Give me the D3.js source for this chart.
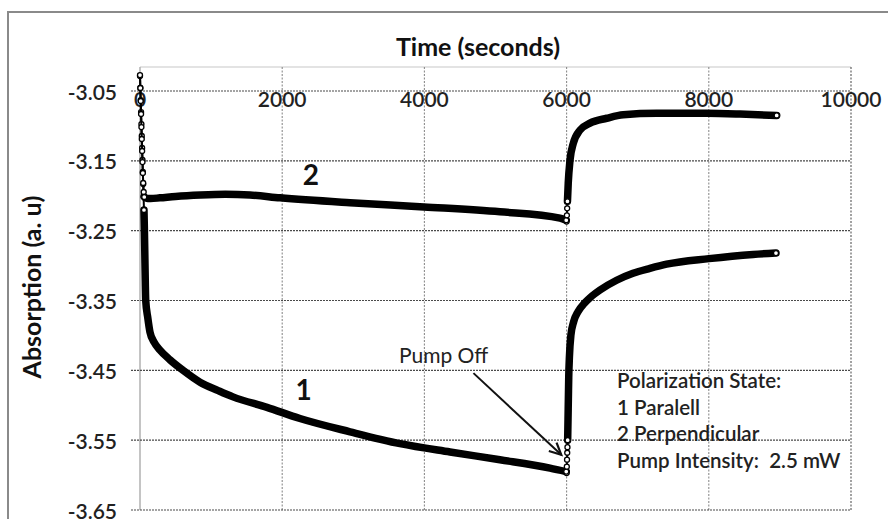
<!DOCTYPE html>
<html><head><meta charset="utf-8">
<script src="https://cdn.jsdelivr.net/npm/d3@7"></script>
<style>html,body{margin:0;padding:0;background:#fff;overflow:hidden}svg{display:block}text{font-family:Lato,"Open Sans",sans-serif}</style>
</head><body><svg id="c" width="888" height="519"></svg>
<script>
// ---- data ----
const xTicks = [0, 2000, 4000, 6000, 8000, 10000];
const yTicks = [-3.05, -3.15, -3.25, -3.35, -3.45, -3.55, -3.65];
const xTitle = "Time (seconds)";
const yTitle = "Absorption (a. u)";

// Series 1: parallel polarization
const time1 = [0,5,10,15,20,25,30,35,40,45,50,56,62,68,74,80,
  110,140,200,281,422,605,844,1100,1308,1786,2250,2954,3657,4360,5063,5767,5995,
  6000,6003,6006,6009,6012,6015,6020,6025,6030,6040,6060,6100,6160,6250,6330,6470,6704,6934,7172,7406,8003,8622,8945];
const abs1 = [-3.0285,-3.0457,-3.0629,-3.0801,-3.0973,-3.1144,-3.1316,-3.1488,-3.1660,-3.1832,-3.2004,-3.2204,-3.2491,-3.2849,-3.3207,-3.3493,
  -3.375,-3.395,-3.410,-3.421,-3.435,-3.450,-3.467,-3.479,-3.488,-3.503,-3.519,-3.538,-3.555,-3.567,-3.578,-3.590,-3.595,
  -3.597,-3.588,-3.578,-3.568,-3.560,-3.550,-3.520,-3.490,-3.460,-3.430,-3.400,-3.380,-3.366,-3.354,-3.346,-3.335,-3.321,-3.311,-3.304,-3.298,-3.290,-3.284,-3.282];

// Series 2: perpendicular polarization
const time2 = [0,5,10,15,20,25,30,35,40,45,52,60,
  80,110,150,280,500,850,1200,1547,1969,2954,3994,5063,5907,5995,
  6000,6004,6008,6012,6023,6048,6094,6188,6329,6564,6797,7267,7970,8439,8955];
const abs2 = [-3.0271,-3.0457,-3.0643,-3.0829,-3.1016,-3.1187,-3.1359,-3.1517,-3.1674,-3.1817,-3.1946,-3.2018,
  -3.203,-3.204,-3.204,-3.203,-3.201,-3.199,-3.198,-3.199,-3.203,-3.210,-3.216,-3.223,-3.232,-3.235,
  -3.237,-3.228,-3.218,-3.208,-3.182,-3.149,-3.125,-3.106,-3.096,-3.089,-3.084,-3.082,-3.082,-3.083,-3.085];

const seriesLabels = [{text:"1", t:2300, v:-3.4925}, {text:"2", t:2405, v:-3.1848}];
const pumpOff = {text:"Pump Off", t:4270, v:-3.4396, from:[4690,-3.454], to:[5925,-3.571]};
const legendLines = ["Polarization State:", "1 Paralell", "2 Perpendicular", "Pump Intensity:  2.5 mW"];

// ---- layout ----
const svg = d3.select("#c");
const X0 = 140, X1 = 851, YB = 510, YT = 67;
const x = d3.scaleLinear().domain([0, 10000]).range([X0, X1]);
const y = d3.scaleLinear().domain([-3.65, -3.0156]).range([YB, YT]);

// outer frame
svg.append("rect").attr("x", 8).attr("y", 12).attr("width", 900).attr("height", 540)
  .attr("fill", "#fff").attr("stroke", "#8a8a8a").attr("stroke-width", 2);

// plot frame top/left
svg.append("line").attr("x1", X0).attr("x2", X1).attr("y1", YT).attr("y2", YT).attr("stroke", "#c8c8c8").attr("stroke-width", 1.2);
svg.append("line").attr("x1", X0).attr("x2", X0).attr("y1", YT).attr("y2", YB).attr("stroke", "#b0b0b0").attr("stroke-width", 1.5);

// vertical gridlines
svg.append("g").selectAll("line").data(xTicks.filter(d => d > 0)).join("line")
  .attr("x1", d => x(d)).attr("x2", d => x(d)).attr("y1", YT).attr("y2", YB)
  .attr("stroke", d => d === 10000 ? "#555" : "#8c8c8c").attr("stroke-width", 1.1)
  .attr("stroke-dasharray", "2,1.5");

// horizontal gridlines (with tick extension)
svg.append("g").selectAll("line").data(yTicks).join("line")
  .attr("x1", X0 - 9).attr("x2", X1).attr("y1", d => y(d)).attr("y2", d => y(d))
  .attr("stroke", "#4a4a4a").attr("stroke-width", 1.2).attr("stroke-dasharray", "2,1");

// y tick labels
svg.append("g").selectAll("text").data(yTicks).join("text")
  .attr("x", 117).attr("y", d => y(d)).attr("text-anchor", "end").attr("dominant-baseline", "central")
  .attr("font-size", 21).attr("font-weight", 600).attr("fill", "#222").text(d => d.toFixed(2));

// x tick labels (placed below the -3.05 axis line)
svg.append("g").selectAll("text").data(xTicks).join("text")
  .attr("x", d => x(d)).attr("y", y(-3.05) + 16).attr("text-anchor", "middle")
  .attr("font-size", 21).attr("font-weight", 600).attr("fill", "#222").text(d => d);

// axis titles
svg.append("text").attr("x", 478).attr("y", 56).attr("text-anchor", "middle")
  .attr("font-size", 25).attr("font-weight", "bold").attr("fill", "#111").text(xTitle);
svg.append("text").attr("transform", "translate(41,287) rotate(-90)").attr("text-anchor", "middle")
  .attr("font-size", 25).attr("font-weight", "bold").attr("fill", "#111").text(yTitle);

// series
function drawSeries(t, v) {
  const pts = t.map((d, i) => [x(d), y(v[i])]);
  const g = svg.append("g");
  const rings = new Set([pts.length - 1]);
  const runs = [];
  let run = null;
  for (let i = 1; i < pts.length; i++) {
    const dx = Math.abs(pts[i][0] - pts[i-1][0]), dy = Math.abs(pts[i][1] - pts[i-1][1]);
    const thin = dx < 1.2 && Math.hypot(dx, dy) <= 16;
    if (thin) {
      rings.add(i); rings.add(i-1);
      g.append("path").attr("d", d3.line()([pts[i-1], pts[i]]))
        .attr("fill", "none").attr("stroke", "#000").attr("stroke-width", 2);
      run = null;
    } else {
      if (!run) { run = [pts[i-1]]; runs.push(run); }
      run.push(pts[i]);
    }
  }
  const thick = d3.line().curve(d3.curveMonotoneX);
  runs.forEach(r => g.append("path").attr("d", thick(r))
    .attr("fill", "none").attr("stroke", "#000").attr("stroke-width", 7.5)
    .attr("stroke-linecap", "round").attr("stroke-linejoin", "round"));
  g.selectAll("circle").data([...rings]).join("circle")
    .attr("cx", i => pts[i][0]).attr("cy", i => pts[i][1]).attr("r", 2.5)
    .attr("fill", "#fff").attr("stroke", "#000").attr("stroke-width", 1.3);
}
drawSeries(time1, abs1);
drawSeries(time2, abs2);

// series labels
svg.append("g").selectAll("text").data(seriesLabels).join("text")
  .attr("x", d => x(d.t)).attr("y", d => y(d.v)).attr("text-anchor", "middle")
  .attr("font-size", 28).attr("font-weight", "bold").attr("fill", "#111").text(d => d.text);

// pump off annotation with arrow
svg.append("text").attr("x", x(pumpOff.t)).attr("y", y(pumpOff.v)).attr("text-anchor", "middle")
  .attr("font-size", 21).attr("fill", "#222").text(pumpOff.text);
const ax1 = x(pumpOff.from[0]), ay1 = y(pumpOff.from[1]), ax2 = x(pumpOff.to[0]), ay2 = y(pumpOff.to[1]);
svg.append("line").attr("x1", ax1).attr("y1", ay1).attr("x2", ax2).attr("y2", ay2).attr("stroke", "#111").attr("stroke-width", 2);
const ang = Math.atan2(ay2 - ay1, ax2 - ax1), hl = 13, ha = 0.45;
svg.append("path").attr("d", `M${ax2 - hl*Math.cos(ang - ha)},${ay2 - hl*Math.sin(ang - ha)} L${ax2},${ay2} L${ax2 - hl*Math.cos(ang + ha)},${ay2 - hl*Math.sin(ang + ha)}`)
  .attr("fill", "none").attr("stroke", "#111").attr("stroke-width", 2.2);

// legend text
svg.append("g").selectAll("text").data(legendLines).join("text")
  .attr("x", 617).attr("y", (d, i) => 388 + i * 26.7).attr("font-size", 20.5)
  .attr("fill", "#222").style("white-space", "pre").attr("font-weight", 600).text(d => d);
</script></body></html>
